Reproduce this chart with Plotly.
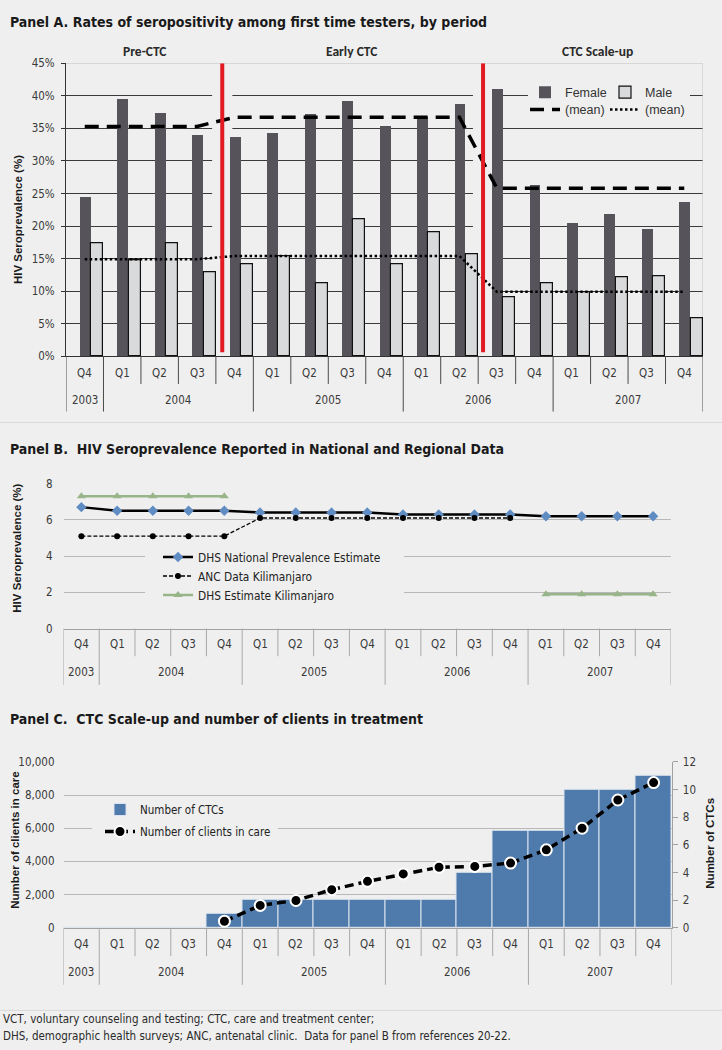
import plotly.graph_objects as go

W, H = 722, 1050
BG = "#efefef"
NARROW = "Liberation Sans Narrow, Arial Narrow, DejaVu Sans Condensed, sans-serif"
SANS = "Liberation Sans, Arial, sans-serif"
CAL = "Carlito, Lato, sans-serif"

# ---------------- data ----------------
quarters = ["Q4", "Q1", "Q2", "Q3", "Q4", "Q1", "Q2", "Q3", "Q4",
            "Q1", "Q2", "Q3", "Q4", "Q1", "Q2", "Q3", "Q4"]
years = ["2003", "2004", "2004", "2004", "2004", "2005", "2005", "2005", "2005",
         "2006", "2006", "2006", "2006", "2007", "2007", "2007", "2007"]

# Panel A: seropositivity among first time testers (%)
female = [24.5, 39.5, 37.3, 34.0, 33.6, 34.2, 37.1, 39.2, 35.3,
          36.7, 38.7, 41.0, 26.3, 20.4, 21.8, 19.5, 23.6]
male = [17.4, 14.7, 17.3, 12.9, 14.1, 15.4, 11.2, 21.0, 14.1,
        19.0, 15.7, 9.0, 11.2, 9.8, 12.1, 12.3, 5.8]
female_mean = [35.3, 35.3, 35.3, 35.3, 36.7, 36.7, 36.7, 36.7, 36.7,
               36.7, 36.7, 25.8, 25.8, 25.8, 25.8, 25.8, 25.8]
male_mean = [14.9, 14.9, 14.9, 14.9, 15.4, 15.4, 15.4, 15.4, 15.4,
             15.4, 15.4, 9.9, 9.9, 9.9, 9.9, 9.9, 9.9]
periods = ["Pre-CTC", "Early CTC", "CTC Scale-up"]
pct_ticks = [0, 5, 10, 15, 20, 25, 30, 35, 40, 45]

# Panel B: HIV seroprevalence (%)
dhs_national = [6.7, 6.5, 6.5, 6.5, 6.5, 6.4, 6.4, 6.4, 6.4,
                6.3, 6.3, 6.3, 6.3, 6.2, 6.2, 6.2, 6.2]
anc_kilimanjaro = [5.1, 5.1, 5.1, 5.1, 5.1, 6.1, 6.1, 6.1, 6.1,
                   6.1, 6.1, 6.1, 6.1, None, None, None, None]
dhs_kilimanjaro = [7.3, 7.3, 7.3, 7.3, 7.3, None, None, None, None,
                   None, None, None, None, 1.9, 1.9, 1.9, 1.9]

# Panel C: CTC scale-up
ctc_count = [0, 0, 0, 0, 1, 2, 2, 2, 2, 2, 2, 4, 7, 7, 10, 10, 11]
clients_in_care = [None, None, None, None, 400, 1350, 1650, 2300, 2800,
                   3250, 3650, 3700, 3900, 4700, 6000, 7700, 8750]

idx = list(range(len(quarters)))


def fx(p):
    return p / W


def fy(p):
    return 1 - p / H


fig = go.Figure()

# ---------------- Panel A traces ----------------
fig.add_trace(go.Bar(x=idx, y=female, name="Female", xaxis="x", yaxis="y",
                     offset=-0.13, width=0.29,
                     marker=dict(color="#57535a", line=dict(width=0)),
                     legend="legend"))
fig.add_trace(go.Bar(x=idx, y=male, name="Male", xaxis="x", yaxis="y",
                     offset=0.17, width=0.32,
                     marker=dict(color="#d9dadc", line=dict(color="#111111", width=1.2)),
                     legend="legend2"))
fig.add_trace(go.Scatter(x=idx, y=female_mean, name="(mean)", mode="lines",
                         xaxis="x", yaxis="y",
                         line=dict(color="black", width=3.5, dash="14px,8px"),
                         legend="legend3"))
fig.add_trace(go.Scatter(x=idx, y=male_mean, name="(mean)", mode="lines",
                         xaxis="x", yaxis="y",
                         line=dict(color="black", width=2.5, dash="2.5px,2.5px"),
                         legend="legend4"))

# ---------------- Panel B traces ----------------
fig.add_trace(go.Scatter(x=idx, y=dhs_national, name="DHS National Prevalence Estimate",
                         mode="lines+markers", xaxis="x2", yaxis="y2",
                         line=dict(color="black", width=2.5),
                         marker=dict(symbol="diamond", size=8, color="#5f8cc3"),
                         legend="legend5"))
fig.add_trace(go.Scatter(x=idx, y=anc_kilimanjaro, name="ANC Data Kilimanjaro",
                         mode="lines+markers", xaxis="x2", yaxis="y2",
                         line=dict(color="black", width=1.3, dash="4px,2px"),
                         marker=dict(symbol="circle", size=6, color="black"),
                         legend="legend5"))
fig.add_trace(go.Scatter(x=idx, y=dhs_kilimanjaro, name="DHS Estimate Kilimanjaro",
                         mode="lines+markers", xaxis="x2", yaxis="y2",
                         line=dict(color="#98b58a", width=2.5),
                         marker=dict(symbol="triangle-up", size=8, color="#98b58a"),
                         legend="legend5"))

# ---------------- Panel C traces ----------------
fig.add_trace(go.Bar(x=idx, y=ctc_count, name="Number of CTCs", xaxis="x3", yaxis="y3",
                     width=1.0,
                     marker=dict(color="#4f7aac", line=dict(color="#dbe4ee", width=1)),
                     legend="legend6", legendgroup="c1"))
fig.add_trace(go.Scatter(x=idx, y=clients_in_care, name="Number of clients in care",
                         mode="lines+markers", xaxis="x3", yaxis="y4",
                         line=dict(color="black", width=3.5, dash="9px,5px"),
                         marker=dict(symbol="circle", size=11, color="black",
                                     line=dict(color="white", width=2)),
                         legend="legend6", legendgroup="c2"))

# ---------------- panels geometry (px) ----------------
panels = [
    dict(xa="x", x0=66, x1=703, top=57, bot=354, q_y=371, yr_y=398,
         q_end=382, yr_end=410, sep="#4a4a4a"),
    dict(xa="x2", x0=63.5, x1=671, top=483, bot=630, q_y=646, yr_y=674,
         q_end=658, yr_end=687, sep="#a8a8a8"),
    dict(xa="x3", x0=63.5, x1=671.5, top=765, bot=933.3, q_y=950, yr_y=978,
         q_end=962, yr_end=991, sep="#a8a8a8"),
]

annotations = []
shapes = []
tickfont = dict(family=NARROW, size=11.5, color="#3a3a3a")

for p in panels:
    # quarter labels
    for i, q in enumerate(quarters):
        annotations.append(dict(x=i, y=fy(p["q_y"]), xref=p["xa"], yref="paper",
                                text=q, showarrow=False, font=tickfont,
                                xanchor="center", yanchor="middle"))
    # year labels and separators
    groups = []
    start = 0
    for i in range(1, len(years) + 1):
        if i == len(years) or years[i] != years[start]:
            groups.append((years[start], start, i - 1))
            start = i
    for yr, a, b in groups:
        annotations.append(dict(x=(a + b) / 2, y=fy(p["yr_y"]), xref=p["xa"], yref="paper",
                                text=yr, showarrow=False, font=tickfont,
                                xanchor="center", yanchor="middle"))
    year_bounds = set([groups[0][1] - 0.5] + [g[2] + 0.5 for g in groups])
    for i in range(len(quarters) + 1):
        b = i - 0.5
        end = p["yr_end"] if b in year_bounds else p["q_end"]
        shapes.append(dict(type="line", xref=p["xa"], yref="paper",
                           x0=b, x1=b, y0=fy(p["bot"]), y1=fy(end),
                           line=dict(color=p["sep"], width=1)))


def ax_x(px, x0, x1):
    """pixel -> category-axis coordinate for a panel spanning x0..x1 px"""
    return (px - x0) / (x1 - x0) * 17 - 0.5


# Panel A decorations
RED_X = [3.67, 10.63]
for rx in RED_X:
    shapes.append(dict(type="rect", xref="x", yref="y", x0=rx - 0.27, x1=rx + 0.27,
                       y0=0.4, y1=44.6, fillcolor=BG, line=dict(width=0), layer="between"))
# frame top/right (light)
shapes.append(dict(type="line", xref="x", yref="y", x0=-0.5, x1=16.5, y0=45, y1=45,
                   line=dict(color="#c4c4c4", width=1), layer="between"))
shapes.append(dict(type="line", xref="x", yref="y", x0=16.5, x1=16.5, y0=0, y1=45,
                   line=dict(color="#c4c4c4", width=1), layer="between"))
# legend background gap in panel A
shapes.append(dict(type="rect", xref="x", yref="y",
                   x0=ax_x(528, 66, 703), x1=ax_x(690, 66, 703),
                   y0=(354 - 113) / 297 * 45, y1=(354 - 72) / 297 * 45,
                   fillcolor=BG, line=dict(width=0), layer="between"))
for rx in RED_X:
    shapes.append(dict(type="line", xref="x", yref="y", x0=rx, x1=rx, y0=0.6, y1=45,
                       line=dict(color="#e01b22", width=4), layer="above"))
# legend background gap in panel B
shapes.append(dict(type="rect", xref="x2", yref="y2",
                   x0=ax_x(145, 63.5, 671), x1=ax_x(404, 63.5, 671),
                   y0=(630 - 604) / 147 * 8, y1=(630 - 548) / 147 * 8,
                   fillcolor=BG, line=dict(width=0), layer="between"))
# legend background gap in panel C
shapes.append(dict(type="rect", xref="x3", yref="y3",
                   x0=ax_x(92, 63.5, 671.5), x1=ax_x(278, 63.5, 671.5),
                   y0=(933.3 - 846) / 168.3 * 12, y1=(933.3 - 805) / 168.3 * 12,
                   fillcolor=BG, line=dict(width=0), layer="between"))
# faint separator lines
for yy in [421, 1017]:
    shapes.append(dict(type="line", xref="paper", yref="paper", x0=0, x1=1,
                       y0=fy(yy), y1=fy(yy), line=dict(color="#dadada", width=1)))

# period labels
for text, xp in zip(periods, [145, 351.5, 597.5]):
    annotations.append(dict(x=fx(xp), y=fy(45), xref="paper", yref="paper", text=text,
                            showarrow=False, xanchor="center", yanchor="middle",
                            font=dict(family=CAL, size=13.5, color="#2a2a2a", weight="bold")))

# titles
title_font = dict(family=NARROW, size=14, color="#1a1a1a", weight="bold")
for text, yp in [("Panel A. Rates of seropositivity among first time testers, by period", 15),
                 ("Panel B.  HIV Seroprevalence Reported in National and Regional Data", 448),
                 ("Panel C.  CTC Scale-up and number of clients in treatment", 722)]:
    annotations.append(dict(x=fx(8), y=fy(yp), xref="paper", yref="paper", text=text,
                            showarrow=False, xanchor="left", yanchor="middle", font=title_font))

# axis titles
axt_font = dict(family=SANS, size=11.5, color="#1a1a1a", weight="bold")
for text, xp, yp in [("HIV Seroprevalence (%)", 18, 216),
                     ("HIV Seroprevalence (%)", 17, 549),
                     ("Number of clients in care", 15, 845),
                     ("Number of CTCs", 710, 848)]:
    annotations.append(dict(x=fx(xp), y=fy(yp), xref="paper", yref="paper", text=text,
                            showarrow=False, textangle=-90, xanchor="center", yanchor="middle",
                            font=axt_font))

# footnote
foot_font = dict(family=NARROW, size=11.5, color="#2a2a2a")
for text, yp in [("VCT, voluntary counseling and testing; CTC, care and treatment center;", 1026),
                 ("DHS, demographic health surveys; ANC, antenatal clinic.  Data for panel B from references 20-22.", 1043)]:
    annotations.append(dict(x=fx(1), y=fy(yp), xref="paper", yref="paper", text=text,
                            showarrow=False, xanchor="left", yanchor="middle", font=foot_font))

xbase = dict(range=[-0.5, 16.5], showgrid=False, showticklabels=False, zeroline=False,
             ticks="", fixedrange=True)

legend_a_font = dict(family=SANS, size=12.5, color="#333333")
leg_common = dict(bgcolor="rgba(0,0,0,0)", borderwidth=0, orientation="h",
                  xanchor="left", yanchor="middle", font=legend_a_font)

fig.update_layout(
    width=W, height=H, margin=dict(l=0, r=0, t=0, b=0),
    paper_bgcolor=BG, plot_bgcolor=BG,
    barmode="overlay", bargap=0,
    xaxis=dict(xbase, domain=[fx(66), fx(703)], anchor="y", showline=True,
               linecolor="#333333", linewidth=1),
    yaxis=dict(domain=[fy(354), fy(57)], range=[0, 45], anchor="x",
               tickmode="array", tickvals=pct_ticks,
               ticktext=[f"{v}%" for v in pct_ticks],
               showgrid=True, gridcolor="#3a3a3a", gridwidth=1, zeroline=False,
               showline=True, linecolor="#333333", ticks="outside", ticklen=4,
               tickcolor="#333333", tickfont=tickfont, ticklabelstandoff=4),
    xaxis2=dict(xbase, domain=[fx(63.5), fx(671)], anchor="y2", showline=True,
                linecolor="#a0a0a0"),
    yaxis2=dict(domain=[fy(630), fy(483)], range=[0, 8], anchor="x2",
                tickvals=[0, 2, 4, 6, 8], showgrid=True, gridcolor="#b8b8b8",
                zeroline=False, showline=False, tickfont=tickfont, ticklabelstandoff=10),
    xaxis3=dict(xbase, domain=[fx(63.5), fx(671.5)], anchor="y3", showline=True,
                linecolor="#a0a0a0"),
    yaxis3=dict(domain=[fy(933.3), fy(765)], range=[0, 12], anchor="x3", side="right",
                tickvals=[0, 2, 4, 6, 8, 10, 12], showgrid=False, zeroline=False,
                showline=True, linecolor="#a0a0a0", ticks="outside", ticklen=5,
                tickcolor="#a0a0a0", tickfont=tickfont, ticklabelstandoff=3),
    yaxis4=dict(overlaying="y3", side="left", range=[0, 10000], anchor="x3",
                tickvals=[0, 2000, 4000, 6000, 8000, 10000], tickformat=",d",
                showgrid=True, gridcolor="#b8b8b8", zeroline=False, showline=False,
                tickfont=tickfont, ticklabelstandoff=8),
    legend=dict(leg_common, x=fx(525), y=fy(86.7)),
    legend2=dict(leg_common, x=fx(605), y=fy(86.7)),
    legend3=dict(leg_common, x=fx(525), y=fy(104.3)),
    legend4=dict(leg_common, x=fx(605), y=fy(104.3)),
    legend5=dict(bgcolor="rgba(0,0,0,0)", borderwidth=0, orientation="v",
                 x=fx(158), xanchor="left", y=fy(576.7), yanchor="middle",
                 font=dict(family=NARROW, size=11.8, color="#222222")),
    legend6=dict(bgcolor="rgba(0,0,0,0)", borderwidth=0, orientation="v",
                 x=fx(100), xanchor="left", y=fy(824.5), yanchor="middle",
                 tracegroupgap=3,
                 font=dict(family=NARROW, size=11.5, color="#222222")),
    annotations=annotations,
    shapes=shapes,
    showlegend=True,
)

fig.write_html("out.html", config={"displayModeBar": False},
               post_script="document.body.style.margin='0';")
